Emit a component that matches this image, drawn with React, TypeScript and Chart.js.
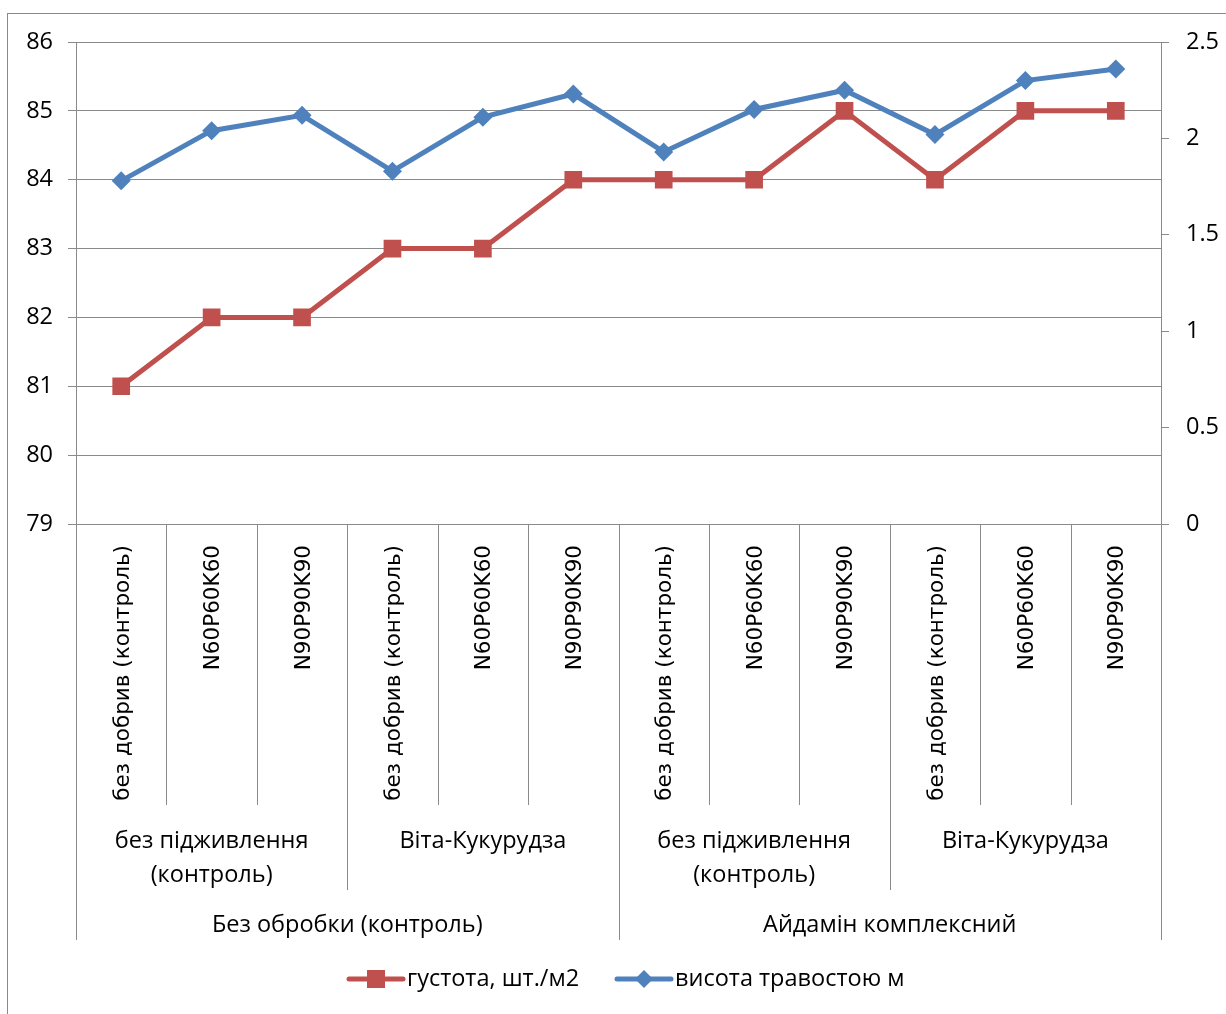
import { useEffect, useRef } from 'react';
import { Chart, registerables } from 'chart.js';

Chart.register(...registerables);

const categories = [
  'без добрив (контроль)', 'N60P60K60', 'N90P90K90',
  'без добрив (контроль)', 'N60P60K60', 'N90P90K90',
  'без добрив (контроль)', 'N60P60K60', 'N90P90K90',
  'без добрив (контроль)', 'N60P60K60', 'N90P90K90',
];
const feedingGroups = [
  ['без підживлення', '(контроль)'],
  ['Віта-Кукурудза'],
  ['без підживлення', '(контроль)'],
  ['Віта-Кукурудза'],
];
const treatmentGroups = ['Без обробки (контроль)', 'Айдамін комплексний'];
const densityValues = [81, 82, 82, 83, 83, 84, 84, 84, 85, 84, 85, 85];
const heightValues = [1.78, 2.04, 2.12, 1.83, 2.11, 2.23, 1.93, 2.15, 2.25, 2.02, 2.3, 2.36];
const seriesNames = ['густота, шт./м2', 'висота травостою м'];
const leftRange = [79, 86];
const rightRange = [0, 2.5];

const RED = '#C0504D';
const BLUE = '#4F81BD';
const GRAY = '#8a8a8a';
const FONT = '"Open Sans", "Noto Sans", sans-serif';
const ROT_FONT = '"DejaVu Sans", sans-serif';
const FS = 23.5;

const multiLevelPlugin = {
  id: 'multiLevel',
  afterDraw(chart: any) {
    const ctx = chart.ctx;
    const xs = chart.scales.x;
    const area = chart.chartArea;
    const n = categories.length;
    const boundary = (i: number) => {
      if (i === 0) return area.left;
      if (i === n) return area.right;
      return (xs.getPixelForValue(i - 1) + xs.getPixelForValue(i)) / 2;
    };
    const b = area.bottom;
    ctx.save();
    // outer border
    ctx.strokeStyle = GRAY;
    ctx.lineWidth = 1;
    ctx.strokeRect(7.5, 13.5, 1400, 1200);
    // separators
    ctx.beginPath();
    for (let i = 0; i <= n; i++) {
      const len = i % 6 === 0 ? 416 : i % 3 === 0 ? 366 : 281;
      const x = Math.round(boundary(i)) + 0.5;
      ctx.moveTo(x, b);
      ctx.lineTo(x, b + len);
    }
    ctx.stroke();
    // rotated category labels
    ctx.fillStyle = '#000';
    ctx.font = '21.5px ' + ROT_FONT;
    for (let i = 0; i < n; i++) {
      const cx = xs.getPixelForValue(i);
      ctx.save();
      ctx.translate(cx + 2, b + 21);
      ctx.rotate(-Math.PI / 2);
      ctx.textAlign = 'right';
      ctx.textBaseline = 'middle';
      ctx.fillText(categories[i], 0, 0);
      ctx.restore();
    }
    // feeding groups
    ctx.font = FS + 'px ' + FONT;
    ctx.textAlign = 'center';
    ctx.textBaseline = 'middle';
    feedingGroups.forEach((lines, g) => {
      const cx = (boundary(g * 3) + boundary(g * 3 + 3)) / 2;
      lines.forEach((t, k) => ctx.fillText(t, cx, b + 317 + k * 34));
    });
    treatmentGroups.forEach((t, g) => {
      const cx = (boundary(g * 6) + boundary(g * 6 + 6)) / 2;
      ctx.fillText(t, cx, b + 401);
    });
    // legend
    const ly = 979;
    const items = [
      { name: seriesNames[0], color: RED, style: 'rect', x: 349 },
      { name: seriesNames[1], color: BLUE, style: 'rectRot', x: 617 },
    ];
    items.forEach((it) => {
      ctx.strokeStyle = it.color;
      ctx.lineWidth = 5;
      ctx.lineCap = 'round';
      ctx.beginPath();
      ctx.moveTo(it.x, ly);
      ctx.lineTo(it.x + 54, ly);
      ctx.stroke();
      ctx.fillStyle = it.color;
      const mx = it.x + 27;
      ctx.beginPath();
      if (it.style === 'rect') {
        ctx.rect(mx - 9, ly - 9, 18, 18);
      } else {
        ctx.moveTo(mx - 9, ly);
        ctx.lineTo(mx, ly - 9);
        ctx.lineTo(mx + 9, ly);
        ctx.lineTo(mx, ly + 9);
        ctx.closePath();
      }
      ctx.fill();
      ctx.fillStyle = '#000';
      ctx.textAlign = 'left';
      ctx.textBaseline = 'middle';
      ctx.fillText(it.name, it.x + 58, ly);
    });
    ctx.restore();
  },
};

export default function App() {
  const ref = useRef<HTMLCanvasElement | null>(null);
  useEffect(() => {
    if (!ref.current) return;
    const chart = new Chart(ref.current, {
      type: 'line',
      data: {
        labels: categories,
        datasets: [
          {
            label: seriesNames[0],
            data: densityValues,
            yAxisID: 'y',
            borderColor: RED,
            backgroundColor: RED,
            borderWidth: 5,
            pointStyle: 'rect',
            pointRadius: 12.5,
            pointBorderWidth: 0,
            pointBackgroundColor: RED,
            tension: 0,
            order: 1,
          },
          {
            label: seriesNames[1],
            data: heightValues,
            yAxisID: 'y1',
            borderColor: BLUE,
            backgroundColor: BLUE,
            borderWidth: 5,
            pointStyle: 'rectRot',
            pointRadius: 9.5,
            pointBorderWidth: 0,
            pointBackgroundColor: BLUE,
            tension: 0,
            order: 0,
          },
        ],
      },
      options: {
        animation: false,
        responsive: false,
        layout: { padding: { top: 42, left: 0, right: 0, bottom: 0 } },
        plugins: { legend: { display: false }, tooltip: { enabled: false } },
        scales: {
          x: {
            type: 'category',
            offset: true,
            grid: { display: false },
            ticks: { display: false },
            border: { display: true, color: GRAY },
            afterFit: (s: any) => { s.height = 490; },
          },
          y: {
            position: 'left',
            min: leftRange[0],
            max: leftRange[1],
            ticks: {
              stepSize: 1,
              color: '#000',
              padding: 15,
              font: { size: FS, family: FONT },
            },
            grid: { color: GRAY, tickLength: 8, drawTicks: true },
            border: { color: GRAY },
            afterFit: (s: any) => { s.width = 76; },
          },
          y1: {
            position: 'right',
            min: rightRange[0],
            max: rightRange[1],
            ticks: {
              stepSize: 0.5,
              color: '#000',
              padding: 17,
              font: { size: FS, family: FONT },
              callback: (v: any) => String(v),
            },
            grid: { drawOnChartArea: false, color: GRAY, tickLength: 8, drawTicks: true },
            border: { color: GRAY },
            afterFit: (s: any) => { s.width = 65; },
          },
        },
      },
      plugins: [multiLevelPlugin],
    });
    return () => chart.destroy();
  }, []);
  return (
    <div style={{ position: 'absolute', left: 0, top: 0, width: 1226, height: 1014, background: '#fff' }}>
      <canvas ref={ref} width={1226} height={1014} style={{ display: 'block' }} />
    </div>
  );
}
